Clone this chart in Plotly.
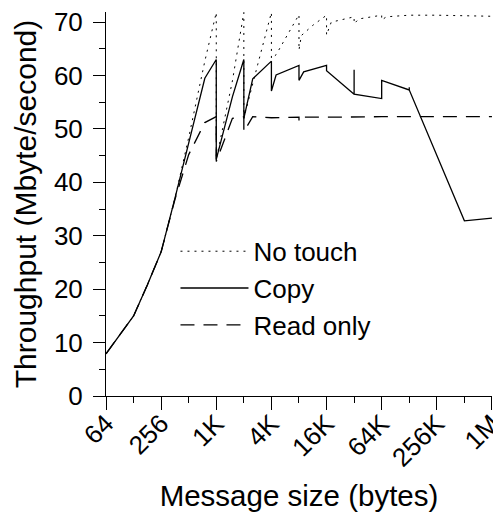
import math
import plotly.graph_objects as go

# ---- data (message size in bytes, throughput in Mbyte/s) ----
notouch_x = [64, 128, 181, 256, 362, 512, 768, 1024, 1024, 1536, 2048, 2048, 2896, 4096, 4096,
             4608, 8192, 8192, 8704, 11585, 16384, 16384, 18432, 32768, 32768, 36864, 65536,
             65536, 73728, 131072, 262144, 524288, 1048576]
notouch_y = [7.9, 15.0, 20.8, 27.0, 37.0, 48.4, 62.7, 71.8, 44.3, 59.0, 71.8, 52.0, 62.0, 71.8, 63.2,
             63.9, 71.4, 64.8, 67.5, 69.4, 71.3, 67.6, 70.0, 71.0, 69.7, 70.6, 71.3,
             70.4, 71.0, 71.3, 71.3, 71.2, 71.1]

copy_x = [64, 128, 181, 256, 362, 512, 768, 1024, 1024, 1536, 2048, 2048, 2560, 4096, 4096, 4608,
          8192, 8192, 9216, 16384, 16384, 32768, 32768, 32768, 65536, 65536, 131072, 131072,
          131072, 524288, 1048576]
copy_y = [7.9, 15.0, 20.8, 27.0, 37.0, 47.5, 59.5, 63.0, 44.3, 56.0, 63.0, 52.0, 59.4, 62.7, 57.1, 60.1,
          61.9, 59.1, 60.7, 61.9, 60.9, 56.5, 61.1, 56.5, 55.7, 59.1, 57.3, 57.8,
          57.3, 32.8, 33.3]

readonly_x = [64, 128, 181, 256, 362, 512, 768, 1024, 1024, 1536, 2048, 2048, 2560, 4096, 8192,
              8192, 8192, 16384, 32768, 65536, 131072, 262144, 524288, 1048576]
readonly_y = [7.9, 15.0, 20.8, 27.0, 36.8, 45.2, 51.2, 52.3, 43.9, 52.0, 52.3, 49.5, 52.3, 52.1, 52.2,
              51.6, 52.2, 52.2, 52.3, 52.3, 52.3, 52.3, 52.3, 52.3]

x_tickvals = [64, 256, 1024, 4096, 16384, 65536, 262144, 1048576]
x_ticktext = ["64", "256", "1K", "4K", "16K", "64K", "256K", "1M"]
x_minorvals = [128, 512, 2048, 8192, 32768, 131072, 524288]

y_tickvals = [0, 10, 20, 30, 40, 50, 60, 70]
y_minorvals = [5, 15, 25, 35, 45, 55, 65]

FONT = "Liberation Sans, Arial, sans-serif"

fig = go.Figure()
fig.add_trace(go.Scatter(x=notouch_x, y=notouch_y, mode="lines", name="No touch",
                         legendgroup="a",
                         line=dict(color="black", width=1, dash="2px,5px")))
fig.add_trace(go.Scatter(x=copy_x, y=copy_y, mode="lines", name="Copy",
                         legendgroup="b",
                         line=dict(color="black", width=1.3)))
fig.add_trace(go.Scatter(x=readonly_x, y=readonly_y, mode="lines", name="Read only",
                         legendgroup="c",
                         line=dict(color="black", width=1.3, dash="14px,9px")))

fig.update_layout(
    width=493, height=508,
    margin=dict(l=98, r=9, t=4, b=120),
    paper_bgcolor="white", plot_bgcolor="white",
    font=dict(family=FONT, color="black", size=26),
    showlegend=True,
    legend=dict(x=0.18, y=0.438, xanchor="left", yanchor="top",
                bgcolor="rgba(0,0,0,0)", borderwidth=0,
                font=dict(size=26, family=FONT, color="black"),
                tracegroupgap=0, itemwidth=68),
    xaxis=dict(
        type="log",
        range=[math.log10(64), math.log10(1048576) + 0.0005],
        tickmode="array", tickvals=x_tickvals, ticktext=x_ticktext,
        tickangle=-45, ticks="outside", ticklen=13, tickwidth=1, tickcolor="black",
        ticklabelstandoff=-12, ticklabeloverflow="allow",
        minor=dict(tickmode="array", tickvals=x_minorvals, ticks="outside",
                   ticklen=6, tickwidth=1, tickcolor="black", showgrid=False),
        showline=True, linecolor="black", linewidth=1,
        showgrid=False, zeroline=False, automargin=False,
        tickfont=dict(size=26, family=FONT),
        title=dict(text="Message size (bytes)", font=dict(size=29.5, family=FONT), standoff=13),
    ),
    yaxis=dict(
        range=[0, 71.9],
        tickmode="array", tickvals=y_tickvals,
        ticks="outside", ticklen=12, tickwidth=1, tickcolor="black",
        ticklabelstandoff=5, ticklabeloverflow="allow",
        minor=dict(tickmode="array", tickvals=y_minorvals, ticks="outside",
                   ticklen=6, tickwidth=1, tickcolor="black", showgrid=False),
        showline=True, linecolor="black", linewidth=1,
        showgrid=False, zeroline=False, automargin=False,
        tickfont=dict(size=26, family=FONT),
        title=dict(text="Throughput (Mbyte/second)", font=dict(size=30, family=FONT), standoff=8),
    ),
)

fig.write_html("out.html")
